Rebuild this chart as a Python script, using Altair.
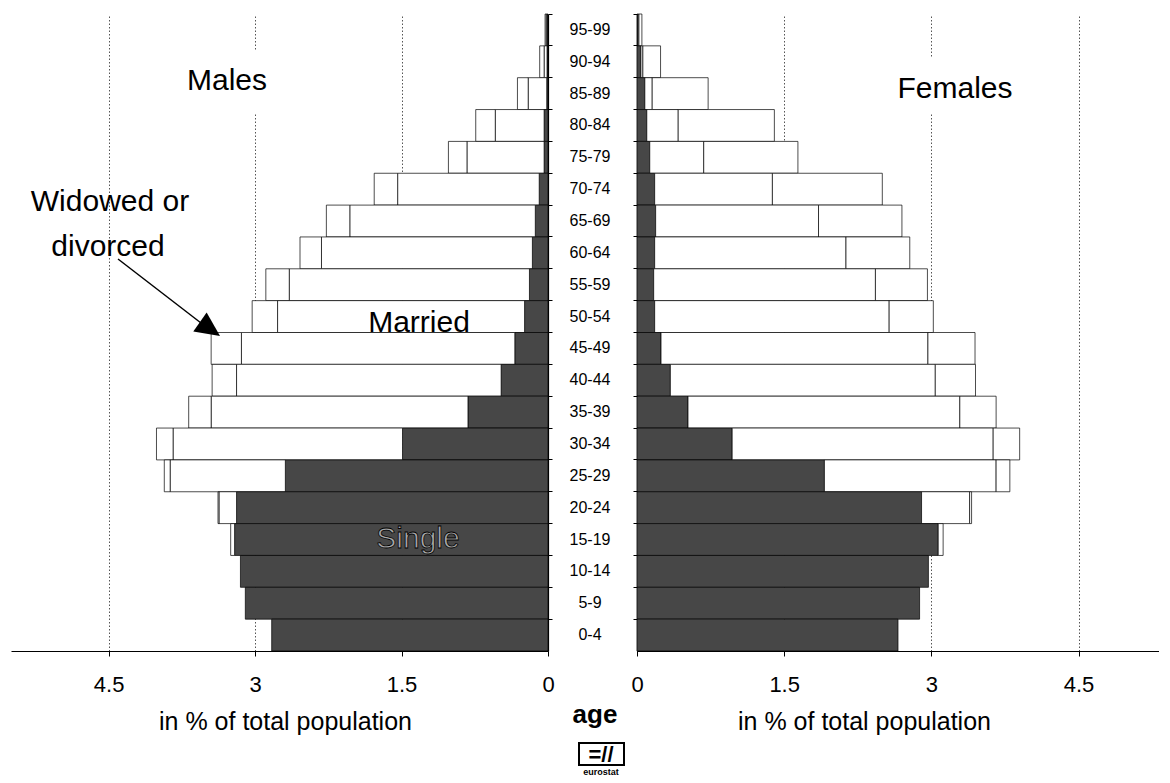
import altair as alt
import pandas as pd

FONT = "Liberation Sans"

ages = ["95-99", "90-94", "85-89", "80-84", "75-79", "70-74", "65-69", "60-64",
        "55-59", "50-54", "45-49", "40-44", "35-39", "30-34", "25-29", "20-24",
        "15-19", "10-14", "5-9", "0-4"]
statuses = ["Single", "Married", "Widowed or divorced"]

male_single = [0.01, 0.01, 0.013, 0.04, 0.04, 0.09, 0.13, 0.16, 0.19, 0.24,
               0.34, 0.48, 0.82, 1.49, 2.69, 3.19, 3.21, 3.15, 3.10, 2.83]
male_married = [0.01, 0.03, 0.19, 0.50, 0.79, 1.45, 1.90, 2.16, 2.46, 2.53,
                2.80, 2.71, 2.63, 2.35, 1.18, 0.18, 0.04, 0, 0, 0]
male_widowed = [0.01, 0.045, 0.11, 0.20, 0.19, 0.24, 0.24, 0.22, 0.24, 0.26,
                0.31, 0.25, 0.23, 0.17, 0.06, 0.01, 0, 0, 0, 0]

female_single = [0.01, 0.04, 0.08, 0.10, 0.13, 0.18, 0.19, 0.18, 0.17, 0.18,
                 0.245, 0.34, 0.52, 0.97, 1.91, 2.90, 3.07, 2.97, 2.88, 2.66]
female_married = [0.01, 0.02, 0.075, 0.32, 0.55, 1.20, 1.66, 1.95, 2.26, 2.39,
                  2.72, 2.70, 2.77, 2.66, 1.75, 0.49, 0.05, 0, 0, 0]
female_widowed = [0.03, 0.18, 0.57, 0.98, 0.96, 1.12, 0.85, 0.65, 0.53, 0.45,
                  0.48, 0.41, 0.37, 0.27, 0.14, 0.02, 0, 0, 0, 0]

tick_values = [0, 1.5, 3, 4.5]


def to_long(single, married, widowed):
    rows = []
    for i, a in enumerate(ages):
        for k, v in enumerate([single[i], married[i], widowed[i]]):
            if v > 0:
                rows.append({"age": a, "status": statuses[k], "value": v, "ord": k})
    return pd.DataFrame(rows)


df_m = to_long(male_single, male_married, male_widowed)
df_f = to_long(female_single, female_married, female_widowed)

band = alt.Scale(paddingInner=0, paddingOuter=0)
color = alt.Color("status:N",
                  scale=alt.Scale(domain=statuses, range=["#474747", "#ffffff", "#ffffff"]),
                  legend=None)


def yaxis(orient):
    return alt.Y("age:N", sort=ages, scale=band,
                 axis=alt.Axis(orient=orient, labels=False, title=None, ticks=True,
                               tickSize=4, bandPosition=0, domainColor="black",
                               tickColor="black", grid=False, domainWidth=1.2))


def xaxis(title_x):
    return alt.Axis(values=tick_values, labelExpr="'' + datum.value",
                    title="in % of total population",
                    titleX=title_x, titleY=78, titleAlign="center",
                    titleBaseline="alphabetic", titleFontSize=25,
                    titleFontWeight="normal", titleFont=FONT, titleColor="black",
                    labelFontSize=22, labelFont=FONT, labelColor="black",
                    labelBaseline="alphabetic", labelPadding=35, labelFlush=False,
                    labelOverlap=False, tickSize=5, tickColor="black",
                    domainColor="black", domainWidth=1.2, grid=True,
                    gridDash=[1.5, 2], gridColor="#555", gridWidth=1)


one = pd.DataFrame({"k": [0]})


def note(text, x, y, size=30, **kw):
    return alt.Chart(one).mark_text(text=text, fontSize=size, font=FONT,
                                    baseline="alphabetic", align="center", **kw).encode(
        x=alt.value(x), y=alt.value(y))


def mask(x1, x2, y1, y2):
    return alt.Chart(one).mark_rect(color="white").encode(
        x=alt.value(x1), x2=alt.value(x2), y=alt.value(y1), y2=alt.value(y2))


left_bars = alt.Chart(df_m).mark_bar(stroke="black", strokeWidth=0.7).encode(
    x=alt.X("value:Q", stack="zero",
            scale=alt.Scale(domain=[0, 5.5], reverse=True, nice=False),
            axis=xaxis(274)),
    y=yaxis("right"),
    color=color,
    order=alt.Order("ord:Q"),
)

arrow_line = alt.Chart(one).mark_rule(color="black", strokeWidth=1.5).encode(
    x=alt.value(107), y=alt.value(245), x2=alt.value(190), y2=alt.value(309))
arrow_head = alt.Chart(one).mark_point(shape="M 1 0 L -1 -0.95 L -1 0.95 Z", filled=True,
                                       color="black", opacity=1, size=600, angle=35).encode(
    x=alt.value(199), y=alt.value(315))

left = alt.layer(
    left_bars,
    mask(169, 264, 37, 99),
    note("Males", 216, 76),
    note("Widowed or", 99, 197),
    note("divorced", 97, 242),
    note("Married", 408, 318),
    note("Single", 407, 534, fill="#a8a8a8", stroke="black", strokeWidth=0.8),
    arrow_line,
    arrow_head,
).properties(width=537, height=637)

right_bars = alt.Chart(df_f).mark_bar(stroke="black", strokeWidth=0.7).encode(
    x=alt.X("value:Q", stack="zero",
            scale=alt.Scale(domain=[0, 5.32], nice=False),
            axis=xaxis(227)),
    y=yaxis("left"),
    color=color,
    order=alt.Order("ord:Q"),
)

right = alt.layer(
    right_bars,
    mask(253, 383, 44, 100),
    note("Females", 318, 84),
).properties(width=522, height=637)

mid_labels = alt.Chart(pd.DataFrame({"age": ages})).mark_text(
    fontSize=16, font=FONT, color="black").encode(
    y=alt.Y("age:N", sort=ages, scale=band, axis=None),
    x=alt.value(42),
    text="age:N",
)

logo_box = alt.Chart(one).mark_rect(fill="white", stroke="black", strokeWidth=2).encode(
    x=alt.value(31), x2=alt.value(76), y=alt.value(729), y2=alt.value(751))

mid = alt.layer(
    mid_labels,
    note("age", 47, 709, size=26, fontWeight="bold"),
    logo_box,
    note("=//", 53, 748, size=22, fontWeight="bold"),
    note("eurostat", 53, 761, size=9, fontWeight="bold"),
).properties(width=89, height=637)

chart = alt.hconcat(left, mid, right, spacing=0, bounds="flush").properties(
    padding={"left": 3, "top": 5, "right": 0, "bottom": 0}
).configure(font=FONT).configure_view(stroke=None)

chart.save("out.html", embed_options={"renderer": "svg", "actions": False})
